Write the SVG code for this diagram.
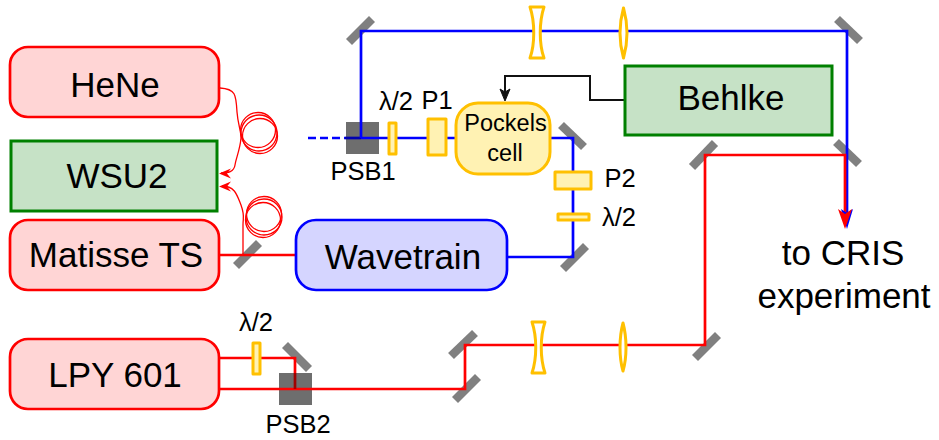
<svg xmlns="http://www.w3.org/2000/svg" width="939" height="440" viewBox="0 0 939 440">
<style>
text{font-family:"Liberation Sans",Arial,sans-serif;fill:#000;text-anchor:middle}
.big{font-size:35px}.mid{font-size:25.500px}.pc{font-size:23.500px}
.laser{fill:#ffd5d5;stroke:#f00;stroke-width:2.700}
.ctl{fill:#c6e2c6;stroke:#008000;stroke-width:3}
.opt{fill:#fff2b3;stroke:#ffc000;stroke-width:3;stroke-linejoin:round}
.lens{fill:#fff;stroke:#ffc000;stroke-width:3;stroke-linejoin:round}
.mir{stroke:#808080;stroke-width:8.500;fill:none}
.r{stroke:#f00;stroke-width:2.700;fill:none}
.b{stroke:#00f;stroke-width:2.700;fill:none}
.f{stroke:#f00;stroke-width:1.300;fill:none}
.psb{fill:#6e6e6e}
</style>
<g id="mirrors">
<path class="mir" d="M349 42L372 19"/><path class="mir" d="M837 19L860 41"/>
<path class="mir" d="M692 167L715 143"/><path class="mir" d="M836 142L859 164"/>
<path class="mir" d="M561 125L584 147"/><path class="mir" d="M563 269L586 246"/>
<path class="mir" d="M236 266L259 243"/><path class="mir" d="M285 345L309 369"/>
<path class="mir" d="M451 356L475 333"/><path class="mir" d="M455 400L478 377"/>
<path class="mir" d="M695 358L718 335"/>
</g>
<g id="PSB1"><rect class="psb" x="346" y="122" width="33" height="32"/><text class="mid" x="363" y="180">PSB1</text></g>
<g id="PSB2"><rect class="psb" x="279" y="373" width="33" height="32"/><text class="mid" x="298" y="433">PSB2</text></g>
<g id="connectors">
<path class="b" d="M308 138H345" stroke-dasharray="8 4"/>
<path class="b" d="M345 138H361" stroke="#00a" style="stroke:#0000b0"/>
<path class="b" d="M361 138H456M550 138H573V257H507"/>
<path class="b" d="M361 138V31H847V222"/>
<path class="r" d="M219 255H296"/>
<path class="r" d="M219 358H295V373M270 389H465V345H705V155H845V222M219 389H270"/>
<path class="r" d="M295 373V389" style="stroke:#a00000"/>
<path d="M625 100H590V76H505V92" fill="none" stroke="#111" stroke-width="2"/>
<path d="M505 101L500 89L505 92L510 89Z" fill="#111" stroke="#111"/>
<path d="M841 209L847 213L853 209L847 229Z" fill="#00f"/>
<path d="M838 209L845 214L852 209L845 229Z" fill="#f00"/>
<g id="fibres" class="f">
<path d="M220 88C236 89 236 95 237 112C238 125 241 130 241 138C240 150 236 158 235 165C234 172 228 173 221 173"/>
<path d="M243 255V225C243 217 245 216 241 205C237 195 235 186 222 186"/>
<circle cx="258" cy="130" r="17.500"/><circle cx="259" cy="133" r="18"/><circle cx="260" cy="136" r="17.500"/>
<circle cx="264" cy="214" r="17.500"/><circle cx="264" cy="217" r="18"/><circle cx="263" cy="220" r="17.500"/>
</g>
<path d="M219 173.500L231 168.500L227 173.500L231 178.500Z" fill="#f00"/>
<path d="M219 186.500L231 181.500L227 186.500L231 191.500Z" fill="#f00"/>
</g>
<g id="HeNe"><rect class="laser" x="10" y="47" width="209" height="70" rx="18"/><text class="big" x="115" y="97">HeNe</text></g>
<g id="WSU2"><rect class="ctl" x="11" y="141" width="206" height="70"/><text class="big" x="117" y="188">WSU2</text></g>
<g id="MatisseTS"><rect class="laser" x="10" y="220" width="209" height="70" rx="18"/><text class="big" x="116" y="267">Matisse TS</text></g>
<g id="LPY601"><rect class="laser" x="10" y="339" width="209" height="70" rx="18"/><text class="big" x="115" y="387">LPY 601</text></g>
<g id="Wavetrain"><rect x="296" y="220" width="211" height="70" rx="20" fill="#d5d5ff" stroke="#00f" stroke-width="2.700"/><text class="big" x="403" y="269">Wavetrain</text></g>
<g id="Behlke"><rect class="ctl" x="625" y="66" width="207" height="69"/><text class="big" x="731" y="110">Behlke</text></g>
<g id="Pockels"><rect class="opt" x="456" y="103" width="94" height="71" rx="22"/><text class="pc" x="505.500" y="131">Pockels</text><text class="pc" x="505" y="161">cell</text></g>
<g id="optics">
<rect class="opt" x="389" y="123" width="7" height="31"/>
<rect class="opt" x="428" y="119" width="18" height="36"/>
<rect class="opt" x="555" y="172" width="36" height="17"/>
<rect class="opt" x="558" y="214" width="31" height="6"/>
<rect class="opt" x="253" y="343" width="7" height="31"/>
<path class="lens" d="M530 7H544C539 22 539 44 544 58H530C535 44 535 22 530 7Z"/>
<path class="lens" d="M623.500 8C619 24 619 42 623.500 58C628 42 628 24 623.500 8Z"/>
<path class="lens" d="M532 322H545C540 337 540 358 545 373H532C537 358 537 337 532 322Z"/>
<path class="lens" d="M623 323C619 338 619 357 623 371C627 357 627 338 623 323Z"/>
</g>
<g id="labels">
<text class="mid" x="396" y="110">λ/2</text>
<text class="mid" x="437" y="109">P1</text>
<text class="mid" x="620" y="187">P2</text>
<text class="mid" x="619" y="226">λ/2</text>
<text class="mid" x="256" y="331">λ/2</text>
<text class="big" x="843" y="265">to CRIS</text>
<text class="big" x="844" y="308">experiment</text>
</g>
</svg>
